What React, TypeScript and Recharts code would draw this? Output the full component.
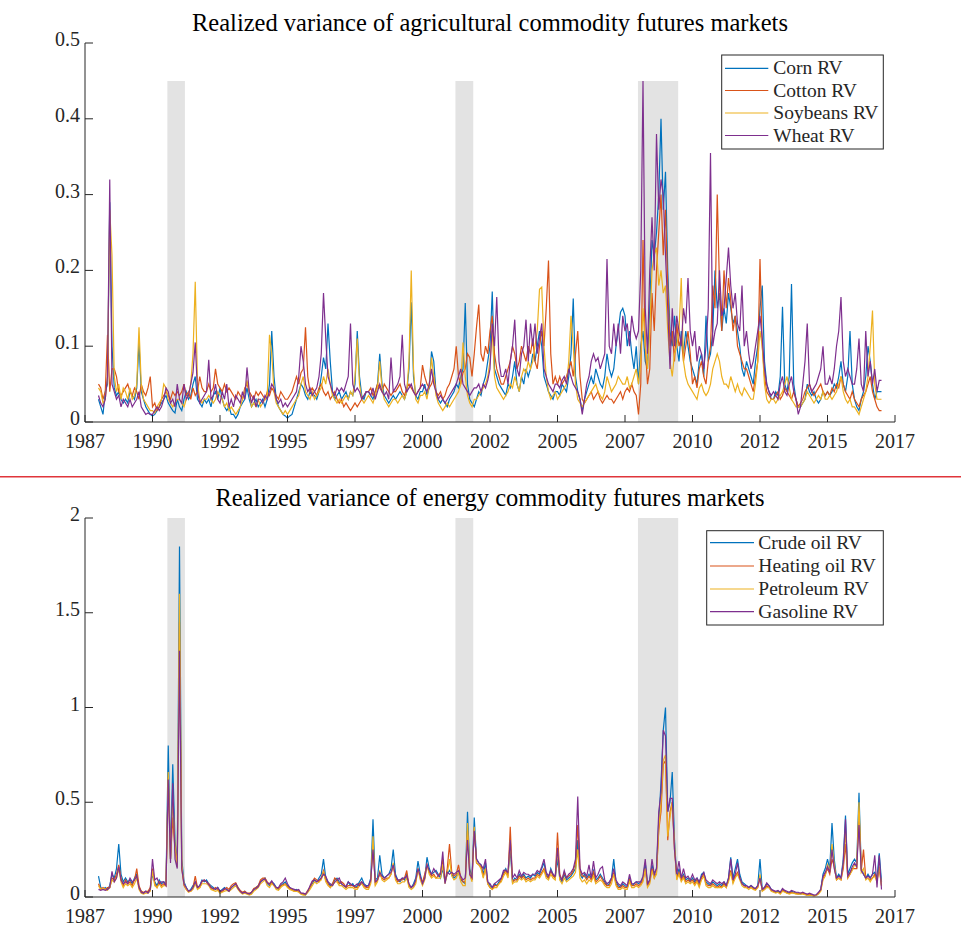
import React from 'react';
import { LineChart, Line, XAxis, YAxis, ReferenceArea } from 'recharts';

const AXIS = '#262626';
const FONT = "'Liberation Serif', 'Times New Roman', serif";
const W = 961;

// Monthly observations start in January 1988; each inner array is one calendar year.
const firstYear = 1988;
const xTicks = [1987.5, 1990, 1992.5, 1995, 1997.5, 2000, 2002.5, 2005, 2007.5, 2010, 2012.5, 2015, 2017.5];
const agriYTicks = [0, 0.1, 0.2, 0.3, 0.4, 0.5];
const energyYTicks = [0, 0.5, 1, 1.5, 2];
const recessions = [[1990.55, 1991.2], [2001.22, 2001.88], [2007.98, 2009.47]];

const agriNames = ['Corn RV', 'Cotton RV', 'Soybeans RV', 'Wheat RV'];
const energyNames = ['Crude oil RV', 'Heating oil RV', 'Petroleum RV', 'Gasoline RV'];
const colors = ['#0072BD', '#D95319', '#EDB120', '#7E2F8E'];

const cornRV = [
  [0.03,0.02,0.01,0.04,0.05,0.29,0.1,0.045,0.035,0.04,0.03,0.025],
  [0.03,0.025,0.04,0.035,0.03,0.045,0.105,0.04,0.03,0.02,0.015,0.01],
  [0.008,0.01,0.015,0.02,0.025,0.03,0.035,0.025,0.02,0.015,0.012,0.03],
  [0.02,0.015,0.03,0.04,0.03,0.035,0.05,0.06,0.03,0.025,0.02,0.03],
  [0.025,0.03,0.02,0.035,0.04,0.03,0.045,0.03,0.02,0.015,0.02,0.01],
  [0.01,0.005,0.01,0.02,0.025,0.03,0.045,0.03,0.02,0.025,0.03,0.02],
  [0.025,0.03,0.02,0.03,0.05,0.12,0.06,0.03,0.02,0.015,0.01,0.008],
  [0.005,0.008,0.01,0.02,0.03,0.04,0.05,0.045,0.035,0.03,0.04,0.035],
  [0.035,0.03,0.04,0.06,0.085,0.07,0.13,0.08,0.04,0.03,0.035,0.04],
  [0.03,0.035,0.04,0.03,0.04,0.035,0.05,0.12,0.06,0.035,0.03,0.04],
  [0.04,0.035,0.03,0.04,0.05,0.09,0.05,0.035,0.03,0.025,0.03,0.035],
  [0.03,0.035,0.04,0.035,0.03,0.04,0.07,0.158,0.06,0.035,0.03,0.04],
  [0.04,0.05,0.035,0.045,0.093,0.08,0.04,0.03,0.025,0.03,0.025,0.02],
  [0.03,0.035,0.04,0.05,0.045,0.06,0.07,0.157,0.05,0.03,0.025,0.02],
  [0.03,0.04,0.035,0.05,0.06,0.08,0.1,0.172,0.07,0.06,0.05,0.045],
  [0.04,0.035,0.05,0.045,0.06,0.08,0.05,0.04,0.06,0.05,0.07,0.06],
  [0.07,0.09,0.08,0.1,0.12,0.1,0.06,0.05,0.04,0.035,0.03,0.04],
  [0.04,0.035,0.05,0.045,0.04,0.06,0.09,0.163,0.06,0.04,0.03,0.015],
  [0.03,0.04,0.05,0.06,0.05,0.07,0.06,0.05,0.045,0.06,0.09,0.07],
  [0.06,0.07,0.1,0.12,0.145,0.15,0.14,0.1,0.12,0.09,0.07,0.1],
  [0.05,0.1,0.12,0.08,0.07,0.15,0.24,0.22,0.25,0.3,0.4,0.28],
  [0.33,0.2,0.12,0.1,0.14,0.1,0.08,0.12,0.09,0.12,0.1,0.08],
  [0.07,0.06,0.05,0.08,0.09,0.06,0.14,0.08,0.09,0.12,0.2,0.15],
  [0.17,0.12,0.15,0.13,0.17,0.15,0.13,0.14,0.12,0.1,0.07,0.06],
  [0.08,0.07,0.06,0.05,0.08,0.1,0.15,0.18,0.08,0.05,0.04,0.03],
  [0.03,0.04,0.035,0.06,0.152,0.05,0.04,0.06,0.182,0.05,0.03,0.02],
  [0.02,0.025,0.03,0.05,0.04,0.035,0.04,0.03,0.025,0.03,0.04,0.035],
  [0.04,0.035,0.04,0.05,0.045,0.06,0.08,0.05,0.04,0.06,0.12,0.05],
  [0.03,0.02,0.015,0.03,0.04,0.06,0.1,0.08,0.05,0.03,0.04,0.04],
  [0.04],
];

const cottonRV = [
  [0.05,0.045,0.03,0.04,0.115,0.04,0.07,0.07,0.06,0.04,0.035,0.04],
  [0.045,0.05,0.04,0.035,0.045,0.04,0.03,0.05,0.04,0.035,0.045,0.06],
  [0.02,0.025,0.015,0.02,0.03,0.035,0.04,0.035,0.03,0.04,0.035,0.04],
  [0.035,0.04,0.05,0.035,0.04,0.03,0.045,0.035,0.04,0.06,0.045,0.04],
  [0.04,0.05,0.04,0.045,0.07,0.05,0.045,0.04,0.05,0.04,0.045,0.04],
  [0.035,0.03,0.04,0.035,0.03,0.045,0.05,0.04,0.035,0.03,0.04,0.035],
  [0.04,0.035,0.03,0.04,0.035,0.045,0.04,0.035,0.03,0.04,0.035,0.03],
  [0.03,0.035,0.04,0.05,0.06,0.05,0.065,0.07,0.125,0.06,0.04,0.045],
  [0.04,0.035,0.045,0.05,0.04,0.035,0.04,0.03,0.035,0.04,0.03,0.025],
  [0.03,0.02,0.025,0.02,0.015,0.02,0.025,0.02,0.025,0.03,0.035,0.04],
  [0.04,0.045,0.035,0.04,0.05,0.045,0.04,0.05,0.045,0.04,0.035,0.04],
  [0.04,0.045,0.05,0.04,0.035,0.045,0.05,0.045,0.04,0.035,0.04,0.045],
  [0.075,0.06,0.05,0.045,0.05,0.06,0.04,0.035,0.04,0.03,0.035,0.045],
  [0.05,0.06,0.07,0.1,0.06,0.05,0.065,0.07,0.09,0.085,0.06,0.09],
  [0.125,0.155,0.09,0.08,0.1,0.09,0.12,0.14,0.09,0.07,0.06,0.05],
  [0.05,0.06,0.07,0.08,0.1,0.09,0.07,0.08,0.1,0.09,0.08,0.1],
  [0.09,0.11,0.08,0.07,0.1,0.12,0.1,0.15,0.213,0.09,0.05,0.06],
  [0.05,0.06,0.05,0.055,0.06,0.07,0.08,0.06,0.09,0.12,0.06,0.03],
  [0.025,0.03,0.035,0.04,0.03,0.035,0.04,0.03,0.025,0.03,0.035,0.03],
  [0.03,0.025,0.03,0.035,0.04,0.03,0.04,0.045,0.04,0.05,0.04,0.035],
  [0.01,0.05,0.24,0.1,0.05,0.07,0.17,0.12,0.2,0.25,0.3,0.22],
  [0.28,0.18,0.1,0.12,0.08,0.13,0.1,0.11,0.08,0.1,0.12,0.09],
  [0.05,0.06,0.045,0.07,0.08,0.06,0.05,0.08,0.1,0.18,0.15,0.3],
  [0.18,0.12,0.2,0.15,0.19,0.16,0.12,0.14,0.1,0.09,0.08,0.07],
  [0.07,0.06,0.05,0.04,0.06,0.08,0.215,0.1,0.06,0.04,0.035,0.03],
  [0.03,0.035,0.04,0.03,0.035,0.045,0.04,0.035,0.03,0.04,0.03,0.02],
  [0.025,0.03,0.04,0.045,0.05,0.04,0.035,0.04,0.045,0.05,0.04,0.035],
  [0.04,0.035,0.045,0.04,0.05,0.045,0.06,0.05,0.04,0.035,0.03,0.04],
  [0.03,0.025,0.02,0.03,0.035,0.04,0.05,0.06,0.04,0.03,0.02,0.015],
  [0.015],
];

const soybeansRV = [
  [0.045,0.04,0.025,0.03,0.06,0.28,0.22,0.06,0.04,0.05,0.03,0.045],
  [0.04,0.03,0.045,0.03,0.035,0.05,0.125,0.05,0.03,0.025,0.02,0.015],
  [0.015,0.012,0.02,0.025,0.03,0.05,0.045,0.03,0.025,0.02,0.025,0.03],
  [0.03,0.025,0.02,0.03,0.035,0.05,0.09,0.185,0.05,0.03,0.025,0.03],
  [0.03,0.035,0.03,0.025,0.03,0.04,0.035,0.03,0.02,0.025,0.015,0.02],
  [0.015,0.01,0.015,0.02,0.03,0.04,0.055,0.04,0.02,0.025,0.02,0.03],
  [0.02,0.025,0.03,0.035,0.115,0.09,0.04,0.025,0.02,0.015,0.01,0.015],
  [0.01,0.015,0.02,0.025,0.03,0.035,0.05,0.06,0.04,0.035,0.03,0.04],
  [0.03,0.035,0.04,0.045,0.06,0.05,0.07,0.05,0.035,0.03,0.025,0.03],
  [0.025,0.03,0.035,0.03,0.04,0.035,0.06,0.11,0.05,0.03,0.025,0.03],
  [0.035,0.03,0.025,0.035,0.045,0.08,0.045,0.03,0.025,0.02,0.025,0.03],
  [0.03,0.025,0.03,0.035,0.03,0.04,0.08,0.2,0.07,0.03,0.025,0.035],
  [0.035,0.04,0.03,0.05,0.085,0.06,0.035,0.025,0.02,0.015,0.02,0.025],
  [0.02,0.025,0.03,0.035,0.04,0.05,0.105,0.06,0.035,0.025,0.02,0.03],
  [0.03,0.035,0.04,0.045,0.05,0.06,0.08,0.12,0.06,0.045,0.04,0.035],
  [0.03,0.035,0.04,0.05,0.045,0.06,0.05,0.04,0.06,0.07,0.065,0.08],
  [0.07,0.08,0.1,0.12,0.175,0.178,0.1,0.06,0.04,0.03,0.035,0.04],
  [0.03,0.035,0.04,0.045,0.05,0.08,0.14,0.1,0.05,0.03,0.025,0.02],
  [0.025,0.03,0.035,0.04,0.045,0.05,0.04,0.035,0.03,0.04,0.06,0.05],
  [0.04,0.045,0.05,0.06,0.055,0.05,0.05,0.06,0.045,0.05,0.06,0.07],
  [0.05,0.08,0.15,0.1,0.07,0.12,0.2,0.22,0.23,0.18,0.2,0.17],
  [0.18,0.12,0.08,0.06,0.09,0.1,0.12,0.19,0.08,0.06,0.05,0.045],
  [0.04,0.035,0.03,0.045,0.05,0.04,0.035,0.04,0.05,0.07,0.08,0.09],
  [0.08,0.06,0.05,0.05,0.045,0.06,0.05,0.04,0.05,0.04,0.035,0.045],
  [0.04,0.035,0.03,0.03,0.05,0.08,0.12,0.1,0.05,0.03,0.025,0.03],
  [0.03,0.025,0.03,0.035,0.04,0.05,0.06,0.045,0.03,0.025,0.02,0.02],
  [0.02,0.025,0.03,0.04,0.035,0.03,0.025,0.03,0.035,0.03,0.04,0.03],
  [0.03,0.035,0.03,0.035,0.04,0.05,0.06,0.04,0.03,0.025,0.03,0.02],
  [0.02,0.015,0.01,0.02,0.03,0.04,0.06,0.1,0.147,0.05,0.03,0.03],
  [0.03],
];

const wheatRV = [
  [0.035,0.025,0.02,0.03,0.06,0.32,0.05,0.04,0.03,0.035,0.02,0.03],
  [0.025,0.02,0.03,0.02,0.025,0.03,0.04,0.02,0.015,0.01,0.012,0.01],
  [0.01,0.015,0.02,0.015,0.02,0.03,0.045,0.04,0.025,0.03,0.02,0.05],
  [0.03,0.025,0.05,0.03,0.035,0.05,0.065,0.105,0.04,0.025,0.03,0.035],
  [0.04,0.082,0.03,0.035,0.05,0.03,0.025,0.04,0.03,0.05,0.02,0.03],
  [0.02,0.035,0.03,0.025,0.04,0.03,0.072,0.04,0.025,0.035,0.02,0.03],
  [0.03,0.025,0.035,0.03,0.04,0.05,0.045,0.03,0.025,0.03,0.02,0.025],
  [0.02,0.025,0.03,0.035,0.04,0.06,0.1,0.08,0.05,0.04,0.045,0.035],
  [0.04,0.045,0.06,0.09,0.17,0.11,0.06,0.05,0.04,0.035,0.045,0.04],
  [0.045,0.04,0.05,0.06,0.13,0.05,0.04,0.045,0.04,0.03,0.035,0.04],
  [0.04,0.035,0.045,0.03,0.04,0.05,0.04,0.035,0.04,0.03,0.085,0.04],
  [0.045,0.05,0.06,0.115,0.05,0.04,0.045,0.05,0.04,0.035,0.04,0.045],
  [0.05,0.045,0.04,0.05,0.07,0.05,0.04,0.03,0.035,0.03,0.025,0.03],
  [0.035,0.04,0.045,0.05,0.06,0.07,0.05,0.045,0.04,0.035,0.04,0.045],
  [0.045,0.05,0.04,0.05,0.045,0.055,0.07,0.13,0.1,0.165,0.08,0.06],
  [0.06,0.07,0.05,0.08,0.1,0.135,0.07,0.06,0.09,0.1,0.135,0.08],
  [0.13,0.1,0.13,0.09,0.11,0.13,0.07,0.06,0.05,0.045,0.04,0.05],
  [0.05,0.045,0.055,0.06,0.05,0.07,0.06,0.05,0.045,0.04,0.03,0.01],
  [0.03,0.05,0.06,0.08,0.09,0.08,0.085,0.07,0.08,0.09,0.215,0.1],
  [0.09,0.13,0.1,0.13,0.09,0.14,0.12,0.13,0.1,0.14,0.12,0.11],
  [0.12,0.2,0.45,0.15,0.09,0.2,0.27,0.2,0.38,0.28,0.32,0.3],
  [0.22,0.15,0.07,0.15,0.1,0.14,0.12,0.1,0.15,0.13,0.19,0.12],
  [0.1,0.12,0.08,0.1,0.09,0.07,0.1,0.15,0.355,0.1,0.12,0.13],
  [0.2,0.14,0.15,0.19,0.23,0.18,0.15,0.17,0.13,0.12,0.18,0.1],
  [0.12,0.09,0.07,0.08,0.1,0.12,0.14,0.11,0.07,0.05,0.04,0.035],
  [0.04,0.035,0.03,0.05,0.06,0.04,0.035,0.05,0.06,0.04,0.03,0.01],
  [0.02,0.05,0.08,0.13,0.05,0.04,0.045,0.05,0.06,0.07,0.1,0.05],
  [0.05,0.06,0.05,0.07,0.1,0.12,0.165,0.08,0.06,0.07,0.06,0.05],
  [0.05,0.07,0.11,0.05,0.04,0.12,0.06,0.08,0.05,0.07,0.04,0.055],
  [0.055],
];

const crudeOilRV = [
  [0.11,0.05,0.04,0.05,0.04,0.06,0.12,0.1,0.15,0.28,0.12,0.08],
  [0.1,0.08,0.09,0.07,0.1,0.12,0.05,0.03,0.02,0.03,0.025,0.04],
  [0.12,0.08,0.06,0.09,0.07,0.08,0.07,0.8,0.2,0.7,0.3,0.17],
  [1.85,0.2,0.08,0.05,0.03,0.04,0.06,0.08,0.05,0.06,0.09,0.08],
  [0.09,0.07,0.06,0.05,0.04,0.05,0.03,0.04,0.05,0.04,0.03,0.05],
  [0.06,0.07,0.05,0.03,0.02,0.03,0.02,0.015,0.02,0.04,0.05,0.06],
  [0.08,0.09,0.1,0.07,0.06,0.08,0.07,0.05,0.04,0.06,0.07,0.08],
  [0.06,0.05,0.04,0.035,0.04,0.03,0.02,0.015,0.01,0.03,0.05,0.07],
  [0.09,0.08,0.1,0.12,0.2,0.1,0.08,0.06,0.07,0.09,0.1,0.08],
  [0.07,0.06,0.05,0.08,0.06,0.07,0.05,0.06,0.08,0.1,0.07,0.06],
  [0.06,0.1,0.41,0.09,0.1,0.22,0.12,0.1,0.11,0.12,0.15,0.25],
  [0.12,0.09,0.08,0.1,0.09,0.12,0.06,0.05,0.07,0.1,0.19,0.12],
  [0.07,0.1,0.21,0.15,0.12,0.13,0.14,0.12,0.1,0.15,0.08,0.12],
  [0.14,0.12,0.1,0.11,0.13,0.09,0.08,0.07,0.45,0.15,0.1,0.42],
  [0.2,0.18,0.17,0.12,0.18,0.08,0.06,0.05,0.07,0.06,0.08,0.1],
  [0.13,0.15,0.12,0.25,0.08,0.1,0.09,0.12,0.1,0.12,0.1,0.11],
  [0.1,0.12,0.11,0.13,0.12,0.15,0.18,0.12,0.1,0.15,0.12,0.1],
  [0.2,0.1,0.08,0.12,0.09,0.1,0.11,0.13,0.15,0.3,0.12,0.1],
  [0.12,0.1,0.12,0.1,0.14,0.09,0.1,0.12,0.1,0.08,0.06,0.07],
  [0.1,0.2,0.08,0.06,0.05,0.07,0.06,0.05,0.1,0.06,0.07,0.08],
  [0.07,0.08,0.1,0.18,0.07,0.09,0.17,0.12,0.15,0.4,0.6,0.88],
  [1.0,0.45,0.5,0.66,0.3,0.1,0.15,0.1,0.12,0.09,0.1,0.08],
  [0.1,0.08,0.1,0.07,0.12,0.13,0.08,0.07,0.06,0.08,0.07,0.06],
  [0.07,0.06,0.08,0.06,0.1,0.21,0.1,0.15,0.2,0.12,0.08,0.07],
  [0.06,0.05,0.06,0.05,0.04,0.06,0.2,0.04,0.05,0.07,0.06,0.04],
  [0.03,0.025,0.03,0.02,0.04,0.03,0.025,0.02,0.03,0.025,0.02,0.02],
  [0.015,0.02,0.015,0.01,0.015,0.01,0.008,0.01,0.02,0.04,0.12,0.15],
  [0.2,0.15,0.39,0.2,0.1,0.12,0.1,0.2,0.43,0.12,0.15,0.18],
  [0.2,0.18,0.55,0.15,0.12,0.1,0.12,0.1,0.12,0.13,0.1,0.23],
  [0.08],
];

const heatingOilRV = [
  [0.07,0.04,0.05,0.04,0.05,0.05,0.1,0.09,0.12,0.17,0.1,0.06],
  [0.09,0.07,0.08,0.06,0.09,0.15,0.06,0.03,0.025,0.03,0.03,0.05],
  [0.15,0.07,0.05,0.08,0.06,0.07,0.06,0.63,0.2,0.42,0.25,0.16],
  [1.45,0.15,0.06,0.04,0.03,0.03,0.05,0.11,0.05,0.05,0.08,0.09],
  [0.08,0.07,0.05,0.04,0.05,0.04,0.03,0.03,0.04,0.05,0.04,0.06],
  [0.07,0.075,0.05,0.035,0.025,0.03,0.02,0.02,0.025,0.045,0.05,0.06],
  [0.09,0.1,0.1,0.08,0.065,0.075,0.06,0.05,0.045,0.06,0.065,0.07],
  [0.055,0.045,0.04,0.03,0.035,0.03,0.02,0.015,0.015,0.035,0.05,0.08],
  [0.1,0.09,0.08,0.1,0.14,0.09,0.07,0.05,0.07,0.1,0.09,0.07],
  [0.08,0.07,0.05,0.06,0.06,0.06,0.05,0.05,0.07,0.08,0.06,0.05],
  [0.05,0.08,0.28,0.07,0.09,0.12,0.1,0.09,0.1,0.1,0.12,0.17],
  [0.1,0.08,0.09,0.09,0.1,0.14,0.06,0.05,0.06,0.08,0.15,0.1],
  [0.08,0.12,0.17,0.13,0.11,0.12,0.1,0.11,0.13,0.2,0.08,0.15],
  [0.28,0.13,0.11,0.12,0.17,0.1,0.08,0.08,0.35,0.12,0.09,0.36],
  [0.18,0.17,0.16,0.11,0.15,0.07,0.05,0.04,0.06,0.06,0.07,0.09],
  [0.12,0.14,0.11,0.37,0.08,0.09,0.09,0.11,0.1,0.11,0.09,0.1],
  [0.09,0.1,0.1,0.12,0.11,0.13,0.15,0.11,0.1,0.14,0.11,0.1],
  [0.34,0.12,0.09,0.13,0.1,0.11,0.12,0.14,0.18,0.38,0.14,0.11],
  [0.11,0.09,0.11,0.09,0.13,0.08,0.09,0.11,0.09,0.07,0.06,0.06],
  [0.09,0.13,0.07,0.05,0.05,0.06,0.05,0.05,0.09,0.06,0.06,0.07],
  [0.06,0.07,0.09,0.15,0.06,0.08,0.15,0.1,0.13,0.35,0.45,0.7],
  [0.72,0.3,0.45,0.5,0.25,0.1,0.13,0.09,0.11,0.08,0.09,0.08],
  [0.09,0.07,0.09,0.06,0.1,0.12,0.07,0.06,0.06,0.07,0.06,0.05],
  [0.06,0.05,0.07,0.05,0.09,0.14,0.08,0.11,0.13,0.1,0.07,0.06],
  [0.05,0.05,0.05,0.045,0.04,0.05,0.1,0.035,0.04,0.06,0.05,0.035],
  [0.03,0.025,0.025,0.02,0.035,0.03,0.02,0.02,0.025,0.02,0.02,0.015],
  [0.02,0.02,0.015,0.01,0.012,0.01,0.008,0.01,0.02,0.035,0.1,0.12],
  [0.15,0.12,0.2,0.16,0.09,0.1,0.09,0.15,0.28,0.1,0.12,0.15],
  [0.15,0.15,0.45,0.14,0.25,0.1,0.1,0.09,0.1,0.12,0.09,0.15],
  [0.06],
];

const petroleumRV = [
  [0.06,0.04,0.045,0.04,0.035,0.05,0.09,0.08,0.1,0.15,0.08,0.05],
  [0.07,0.06,0.07,0.05,0.07,0.1,0.04,0.02,0.015,0.02,0.02,0.03],
  [0.14,0.06,0.05,0.07,0.05,0.06,0.06,0.66,0.2,0.52,0.27,0.16],
  [1.6,0.17,0.07,0.04,0.025,0.03,0.04,0.07,0.04,0.05,0.07,0.07],
  [0.07,0.06,0.04,0.035,0.03,0.035,0.02,0.025,0.03,0.035,0.03,0.04],
  [0.05,0.06,0.04,0.025,0.015,0.02,0.015,0.01,0.015,0.03,0.04,0.05],
  [0.07,0.08,0.09,0.06,0.05,0.07,0.06,0.04,0.035,0.05,0.06,0.065],
  [0.05,0.04,0.035,0.03,0.03,0.025,0.015,0.01,0.01,0.025,0.04,0.06],
  [0.08,0.07,0.08,0.09,0.13,0.08,0.06,0.05,0.06,0.08,0.08,0.06],
  [0.06,0.05,0.04,0.05,0.05,0.05,0.04,0.04,0.06,0.07,0.05,0.04],
  [0.04,0.07,0.32,0.06,0.08,0.14,0.09,0.08,0.09,0.1,0.12,0.18],
  [0.09,0.07,0.07,0.08,0.08,0.1,0.05,0.04,0.05,0.07,0.15,0.09],
  [0.06,0.09,0.17,0.12,0.1,0.11,0.1,0.1,0.1,0.17,0.07,0.12],
  [0.2,0.11,0.09,0.1,0.13,0.08,0.06,0.06,0.39,0.12,0.08,0.37],
  [0.18,0.17,0.15,0.1,0.15,0.07,0.05,0.04,0.05,0.05,0.07,0.08],
  [0.11,0.13,0.1,0.3,0.07,0.08,0.08,0.1,0.09,0.1,0.08,0.09],
  [0.08,0.09,0.09,0.11,0.1,0.12,0.14,0.1,0.09,0.12,0.1,0.09],
  [0.25,0.09,0.07,0.1,0.08,0.09,0.1,0.11,0.13,0.25,0.1,0.08],
  [0.09,0.07,0.09,0.08,0.11,0.07,0.08,0.09,0.08,0.06,0.05,0.05],
  [0.07,0.12,0.06,0.04,0.04,0.05,0.04,0.04,0.08,0.05,0.05,0.06],
  [0.05,0.06,0.08,0.15,0.05,0.07,0.14,0.1,0.12,0.36,0.5,0.72],
  [0.75,0.32,0.42,0.5,0.28,0.09,0.12,0.08,0.1,0.07,0.08,0.07],
  [0.08,0.06,0.08,0.05,0.09,0.11,0.06,0.05,0.05,0.06,0.05,0.05],
  [0.05,0.05,0.06,0.05,0.08,0.13,0.07,0.1,0.12,0.09,0.06,0.05],
  [0.05,0.04,0.05,0.04,0.035,0.05,0.12,0.03,0.04,0.05,0.05,0.03],
  [0.025,0.02,0.025,0.015,0.03,0.025,0.02,0.015,0.02,0.02,0.015,0.015],
  [0.015,0.015,0.012,0.008,0.01,0.008,0.005,0.008,0.015,0.03,0.09,0.11],
  [0.17,0.14,0.28,0.17,0.09,0.1,0.09,0.17,0.35,0.1,0.12,0.14],
  [0.17,0.16,0.5,0.13,0.15,0.09,0.1,0.08,0.1,0.11,0.08,0.16],
  [0.06],
];

const gasolineRV = [
  [0.04,0.035,0.04,0.035,0.04,0.05,0.135,0.08,0.1,0.16,0.09,0.07],
  [0.08,0.07,0.1,0.08,0.09,0.11,0.05,0.025,0.02,0.03,0.02,0.04],
  [0.2,0.09,0.1,0.07,0.08,0.08,0.06,0.62,0.18,0.6,0.2,0.15],
  [1.3,0.15,0.07,0.05,0.03,0.035,0.05,0.08,0.05,0.06,0.085,0.09],
  [0.08,0.065,0.05,0.045,0.04,0.05,0.03,0.035,0.045,0.04,0.03,0.05],
  [0.06,0.07,0.045,0.03,0.02,0.025,0.02,0.015,0.025,0.04,0.045,0.055],
  [0.08,0.09,0.095,0.075,0.07,0.085,0.065,0.05,0.05,0.07,0.08,0.1],
  [0.07,0.05,0.045,0.04,0.035,0.04,0.02,0.02,0.015,0.03,0.06,0.085],
  [0.09,0.08,0.09,0.1,0.12,0.11,0.08,0.07,0.06,0.08,0.09,0.1],
  [0.07,0.06,0.055,0.08,0.07,0.06,0.06,0.07,0.06,0.08,0.065,0.055],
  [0.06,0.09,0.25,0.08,0.09,0.13,0.11,0.1,0.11,0.12,0.13,0.17],
  [0.11,0.09,0.09,0.1,0.1,0.11,0.07,0.05,0.06,0.09,0.15,0.11],
  [0.07,0.1,0.17,0.14,0.12,0.15,0.13,0.11,0.12,0.24,0.07,0.13],
  [0.12,0.13,0.12,0.13,0.14,0.11,0.09,0.1,0.3,0.12,0.1,0.35],
  [0.2,0.18,0.17,0.15,0.2,0.08,0.07,0.05,0.07,0.08,0.09,0.1],
  [0.14,0.14,0.13,0.3,0.1,0.12,0.1,0.14,0.11,0.13,0.12,0.12],
  [0.11,0.12,0.12,0.14,0.13,0.16,0.2,0.13,0.11,0.14,0.12,0.11],
  [0.26,0.11,0.09,0.14,0.1,0.12,0.13,0.15,0.2,0.53,0.15,0.12],
  [0.13,0.11,0.17,0.1,0.19,0.1,0.12,0.15,0.16,0.09,0.07,0.08],
  [0.1,0.15,0.09,0.07,0.06,0.08,0.07,0.06,0.12,0.07,0.07,0.08],
  [0.08,0.08,0.11,0.2,0.07,0.09,0.2,0.12,0.15,0.45,0.55,0.88],
  [0.85,0.45,0.52,0.52,0.25,0.12,0.19,0.1,0.15,0.1,0.11,0.09],
  [0.12,0.09,0.1,0.08,0.11,0.13,0.09,0.08,0.07,0.09,0.08,0.07],
  [0.08,0.07,0.08,0.06,0.1,0.2,0.09,0.12,0.18,0.1,0.07,0.06],
  [0.06,0.05,0.06,0.05,0.045,0.06,0.1,0.04,0.05,0.075,0.06,0.04],
  [0.035,0.03,0.035,0.025,0.045,0.035,0.03,0.025,0.035,0.03,0.025,0.025],
  [0.02,0.025,0.02,0.015,0.02,0.015,0.01,0.012,0.025,0.04,0.11,0.13],
  [0.16,0.13,0.25,0.15,0.1,0.11,0.1,0.18,0.41,0.11,0.13,0.16],
  [0.18,0.16,0.38,0.14,0.12,0.1,0.11,0.1,0.12,0.22,0.05,0.22],
  [0.04],
];

function toRows(series: number[][][]) {
  const flat = series.map((s) => s.flat());
  return flat[0].map((_, i) => {
    const row: Record<string, number> = { t: firstYear + i / 12 };
    flat.forEach((f, j) => {
      row['s' + j] = f[i];
    });
    return row;
  });
}

const agriRows = toRows([cornRV, cottonRV, soybeansRV, wheatRV]);
const energyRows = toRows([crudeOilRV, heatingOilRV, petroleumRV, gasolineRV]);

// Ticks point into the plot area, labels sit outside.
const XTick = (p: any) => (
  <g>
    <line x1={p.x} x2={p.x} y1={p.y} y2={p.y - 7} stroke={AXIS} strokeWidth={1} />
    <text x={p.x} y={p.y + 25.5} textAnchor="middle" fill={AXIS} fontSize={20} fontFamily={FONT}>
      {Math.floor(p.payload.value)}
    </text>
  </g>
);

const YTick = (p: any) => (
  <g>
    <line x1={p.x} x2={p.x + 8} y1={p.y} y2={p.y} stroke={AXIS} strokeWidth={1} />
    <text x={p.x - 5} y={p.y + 3} textAnchor="end" fill={AXIS} fontSize={20} fontFamily={FONT}>
      {String(p.payload.value)}
    </text>
  </g>
);

type PanelProps = {
  rows: Record<string, number>[];
  yMax: number;
  yTicks: number[];
  shadeTop: number;
  top: number;
  marginTop: number;
  marginBottom: number;
};

const PANEL_H = 460;

function Panel({ rows, yMax, yTicks, shadeTop, top, marginTop, marginBottom }: PanelProps) {
  return (
    <div style={{ position: 'absolute', left: 0, top, width: W, height: PANEL_H }}>
      <LineChart
        width={W}
        height={PANEL_H}
        data={rows}
        margin={{ top: marginTop, right: 66, bottom: marginBottom, left: 40 }}
      >
        {recessions.map(([a, b], i) => (
          <ReferenceArea
            key={'rec' + i}
            x1={a}
            x2={b}
            y1={0}
            y2={shadeTop}
            fill="#e3e3e3"
            fillOpacity={1}
            stroke="none"
            ifOverflow="visible"
          />
        ))}
        <XAxis
          dataKey="t"
          type="number"
          domain={[1987.5, 2017.5]}
          ticks={xTicks}
          interval={0}
          tickSize={0}
          tickMargin={0}
          height={30}
          axisLine={{ stroke: AXIS, strokeWidth: 1 }}
          tickLine={false}
          tick={(p: any) => <XTick {...p} />}
          allowDataOverflow
        />
        <YAxis
          type="number"
          domain={[0, yMax]}
          ticks={yTicks}
          interval={0}
          tickSize={0}
          tickMargin={0}
          width={45}
          axisLine={{ stroke: AXIS, strokeWidth: 1 }}
          tickLine={false}
          tick={(p: any) => <YTick {...p} />}
          allowDataOverflow
        />
        {colors.map((c, j) => (
          <Line
            key={'s' + j}
            type="linear"
            dataKey={'s' + j}
            stroke={c}
            strokeWidth={1.2}
            dot={false}
            activeDot={false}
            isAnimationActive={false}
          />
        ))}
      </LineChart>
    </div>
  );
}

function LegendBox({ x, y, w, h, names, rowYs, lineX1, lineX2, textX }: any) {
  return (
    <g>
      <rect x={x} y={y} width={w} height={h} fill="#ffffff" stroke={AXIS} strokeWidth={1} />
      {names.map((n: string, i: number) => (
        <g key={n}>
          <line x1={lineX1} x2={lineX2} y1={rowYs[i]} y2={rowYs[i]} stroke={colors[i]} strokeWidth={1.2} />
          <text x={textX} y={rowYs[i] + 6} fill={AXIS} fontSize={19.5} fontFamily={FONT}>
            {n}
          </text>
        </g>
      ))}
    </g>
  );
}

export default function App() {
  return (
    <div style={{ position: 'absolute', left: 0, top: 0, width: W, height: 949, background: '#ffffff' }}>
      <Panel rows={agriRows} yMax={0.5} yTicks={agriYTicks} shadeTop={0.45} top={0} marginTop={43} marginBottom={8} />
      <Panel rows={energyRows} yMax={2} yTicks={energyYTicks} shadeTop={2} top={470} marginTop={48} marginBottom={3} />
      <svg
        width={W}
        height={949}
        style={{ position: 'absolute', left: 0, top: 0, pointerEvents: 'none' }}
      >
        <text x={490} y={30.5} textAnchor="middle" fill="#000000" fontSize={24.5} fontFamily={FONT}>
          Realized variance of agricultural commodity futures markets
        </text>
        <line x1={0} x2={W} y1={476.7} y2={476.7} stroke="#e0353b" strokeWidth={1.6} />
        <text x={490} y={505.5} textAnchor="middle" fill="#000000" fontSize={24.5} fontFamily={FONT}>
          Realized variance of energy commodity futures markets
        </text>
        <LegendBox
          x={721.7}
          y={55}
          w={161.6}
          h={94}
          names={agriNames}
          rowYs={[68.3, 90.5, 113, 135.5]}
          lineX1={725}
          lineX2={768.3}
          textX={773.3}
        />
        <LegendBox
          x={706.7}
          y={530.7}
          w={176.6}
          h={94.3}
          names={energyNames}
          rowYs={[542.7, 566, 589, 611.7]}
          lineX1={710}
          lineX2={754}
          textX={758.3}
        />
      </svg>
    </div>
  );
}
